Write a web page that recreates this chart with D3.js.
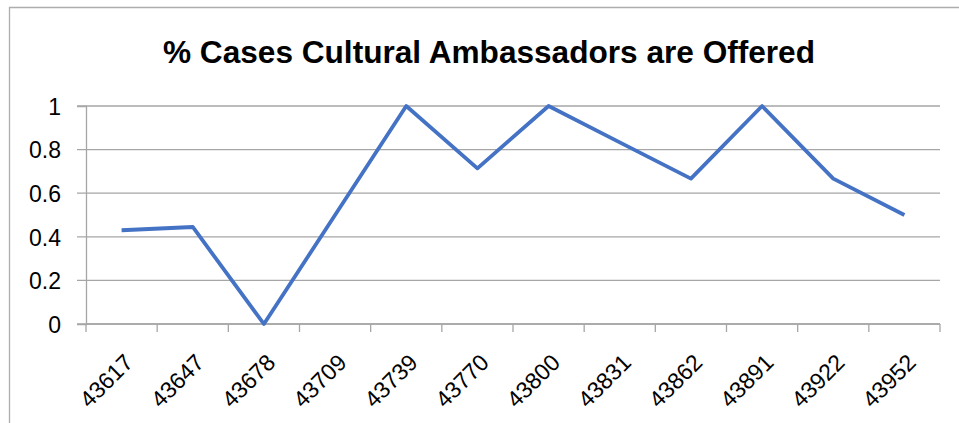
<!DOCTYPE html>
<html>
<head>
<meta charset="utf-8">
<script src="https://cdn.jsdelivr.net/npm/d3@7"></script>
<style>
  body { margin: 0; background: #fff; }
  text { font-family: "Liberation Sans", Arial, sans-serif; fill: #000; }
</style>
</head>
<body>
<div id="chart"></div>
<script>
// data
var categories = ["43617", "43647", "43678", "43709", "43739", "43770",
                  "43800", "43831", "43862", "43891", "43922", "43952"];
var values = [0.43, 0.445, 0, 0.5, 1, 0.714, 1, 0.833, 0.667, 1, 0.667, 0.5];
var yTicks = [0, 0.2, 0.4, 0.6, 0.8, 1];
var title = "% Cases Cultural Ambassadors are Offered";

var width = 959, height = 423;
var margin = {top: 106, right: 19, bottom: 99, left: 86};

var svg = d3.select("#chart").append("svg")
  .attr("width", width)
  .attr("height", height);

// chart frame (only top and left edges visible)
svg.append("path")
  .attr("d", "M9.5,423 V7.5 H959")
  .attr("fill", "none")
  .attr("stroke", "#adadad")
  .attr("stroke-width", 1.3);

var w = width - margin.left - margin.right;
var h = height - margin.top - margin.bottom;

var x = d3.scaleBand().domain(categories).range([0, w]);
var y = d3.scaleLinear().domain([0, 1]).range([h, 0]);

var g = svg.append("g")
  .attr("transform", "translate(" + margin.left + "," + margin.top + ")");

// gridlines
g.selectAll("line.grid")
  .data(yTicks)
  .enter().append("line")
  .attr("class", "grid")
  .attr("x1", -9)
  .attr("x2", w)
  .attr("y1", function (d) { return y(d); })
  .attr("y2", function (d) { return y(d); })
  .attr("stroke", "#a6a6a6")
  .attr("stroke-width", 1.3);

// y axis
var yAxis = g.append("g")
  .call(d3.axisLeft(y).tickValues(yTicks).tickSize(9).tickFormat(function (d) { return d3.format("")(d); }));
yAxis.select(".domain").attr("stroke", "#a6a6a6").attr("stroke-width", 1.3);
yAxis.selectAll(".tick line").attr("stroke", "none");
yAxis.selectAll(".tick text")
  .attr("x", -25)
  .attr("dy", "0.36em")
  .style("font-size", "23px")
  .style("fill", "#000");

// x axis: ticks at band edges
var xAxis = g.append("g")
  .attr("transform", "translate(0," + h + ")");
xAxis.append("line")
  .attr("x1", 0).attr("x2", w)
  .attr("stroke", "#a6a6a6").attr("stroke-width", 1.3);
var edges = categories.map(function (c) { return x(c); }).concat([w]);
xAxis.selectAll("line.tick")
  .data(edges)
  .enter().append("line")
  .attr("class", "tick")
  .attr("x1", function (d) { return d; })
  .attr("x2", function (d) { return d; })
  .attr("y1", 0).attr("y2", 8)
  .attr("stroke", "#a6a6a6").attr("stroke-width", 1.3);
xAxis.selectAll("text")
  .data(categories)
  .enter().append("text")
  .attr("transform", function (d) {
    return "translate(" + (x(d) + x.bandwidth() / 2 + 1) + ",28) rotate(-45)";
  })
  .attr("text-anchor", "end")
  .attr("dominant-baseline", "hanging")
  .style("font-size", "23px")
  .text(function (d) { return d; });

// line
var line = d3.line()
  .x(function (d, i) { return x(categories[i]) + x.bandwidth() / 2; })
  .y(function (d) { return y(d); });

g.append("path")
  .datum(values)
  .attr("d", line)
  .attr("fill", "none")
  .attr("stroke", "#4472c4")
  .attr("stroke-width", 3.8)
  .attr("stroke-linejoin", "round");

// title
svg.append("text")
  .attr("x", 489)
  .attr("y", 63)
  .attr("text-anchor", "middle")
  .attr("textLength", 652)
  .attr("lengthAdjust", "spacingAndGlyphs")
  .style("font-size", "31px")
  .style("font-weight", "bold")
  .text(title);
</script>
</body>
</html>
